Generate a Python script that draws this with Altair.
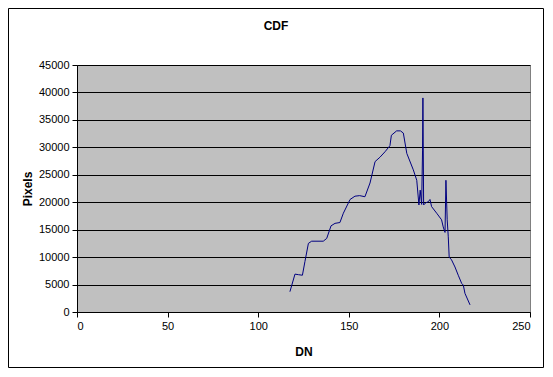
import altair as alt
import pandas as pd

dn = [117.5, 120.3, 122.2, 124.4, 125.8, 127.7, 129.5, 135.9, 137.8, 140.2,
      142.4, 145.1, 147.0, 150.7, 153.4, 156.0, 158.9, 161.7, 164.5, 167.2,
      170.0, 172.7, 173.5, 176.4, 178.5, 180.1, 182.0, 185.6, 187.5, 188.7,
      189.4, 190.2, 190.7, 190.9, 191.3, 192.5, 193.9, 194.8, 195.7, 198.5,
      201.2, 202.1, 203.1, 203.6, 204.3, 204.9, 205.4, 206.7, 208.6, 210.4,
      212.3, 213.2, 214.1, 216.9]
pixels = [3700, 6900, 6800, 6700, 9200, 12500, 12900, 12900, 13400, 15700,
          16150, 16300, 18000, 20500, 21100, 21200, 21000, 23500, 27400, 28200,
          29200, 30300, 32200, 33000, 33000, 32600, 28900, 25900, 24000, 19500,
          22200, 19600, 29500, 39000, 19500, 19900, 20100, 20500, 19200, 18000,
          16800, 15500, 14500, 24000, 16800, 13700, 10000, 9500, 8200, 6700,
          5200, 4900, 3400, 1300]
x_ticks = [0, 50, 100, 150, 200, 250]
y_ticks = [0, 5000, 10000, 15000, 20000, 25000, 30000, 35000, 40000, 45000]
title_text = ["CDF"]

df = pd.DataFrame({"DN": dn, "Pixels": pixels})
FONT = "Liberation Sans"

frame = alt.Chart(pd.DataFrame({"a": [0]})).mark_rect(
    fill=None, stroke="black", strokeWidth=1
).encode(
    x=alt.value(-68.5), x2=alt.value(466.5), y=alt.value(-56.5), y2=alt.value(302.5)
)

title = alt.Chart(pd.DataFrame({"t": title_text})).mark_text(
    font=FONT, fontSize=12, fontWeight="bold", color="black",
    align="center", baseline="middle"
).encode(text="t:N", x=alt.value(199), y=alt.value(-39))

line = alt.Chart(df).mark_line(color="#000080", strokeWidth=1).encode(
    x=alt.X("DN:Q", scale=alt.Scale(domain=[0, 250], nice=False),
            axis=alt.Axis(values=x_ticks, grid=False, title="DN", format="d",
                          titlePadding=15, labelPadding=3)),
    y=alt.Y("Pixels:Q", scale=alt.Scale(domain=[0, 45000], nice=False),
            axis=alt.Axis(values=y_ticks, grid=True, title="Pixels", format="d",
                          titlePadding=4, labelPadding=3)),
    order=alt.Order("DN:Q"),
)

chart = alt.layer(frame, title, line).properties(
    width=453, height=247,
    autosize=alt.AutoSizeParams(type="none"),
    padding={"left": 69, "top": 57, "right": 15, "bottom": 56},
).configure(background="white").configure_view(
    fill="#C0C0C0", stroke="#808080", strokeWidth=1
).configure_axis(
    labelFont=FONT, labelFontSize=11, labelColor="black",
    titleFont=FONT, titleFontSize=12, titleFontWeight="bold", titleColor="black",
    domainColor="black", tickColor="black", tickSize=5,
    gridColor="black", gridWidth=1, gridOpacity=1,
)

chart.save("out.html", embed_options={"renderer": "svg", "actions": False})
